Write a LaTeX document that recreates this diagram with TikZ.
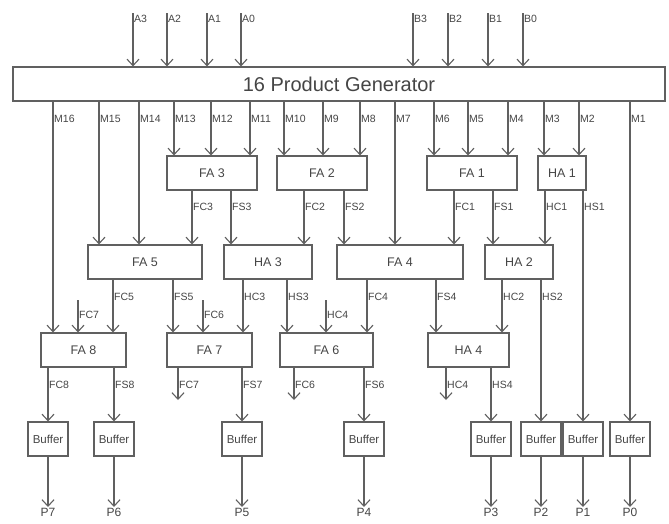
\documentclass[tikz,border=0pt]{standalone}
\usepackage{fontspec}
\setmainfont{Liberation Sans}
\usetikzlibrary{arrows.meta, positioning}
\definecolor{linegray}{HTML}{606060}
\definecolor{txtgray}{HTML}{454545}

\begin{document}
\begin{tikzpicture}[x=1pt, y=-1pt,
  arr/.style={draw=linegray, line width=1.1pt, -{Straight Barb[length=6.5pt, width=12pt, line width=1.1pt]}},
  blk/.style={draw=linegray, line width=1.1pt, minimum height=34pt, inner sep=0pt, font=\fontsize{12.5}{14}\selectfont, text=txtgray},
  buf/.style={blk, minimum width=40pt, font=\fontsize{11.5}{12}\selectfont},
  lbl/.style={anchor=west, inner sep=1pt, font=\fontsize{10.5}{12}\selectfont, text=txtgray},
  plbl/.style={anchor=north, inner sep=1pt, font=\fontsize{12}{12}\selectfont, text=txtgray}]
  \useasboundingbox (0,0) rectangle (669,523);

  % product generator
  \node[blk, minimum width=652pt, font=\fontsize{20}{24}\selectfont] (gen) at (339,84) {16 Product Generator};

  % first adder row
  \node[blk, minimum width=90pt] (FA3) at (212,173) {FA 3};
  \node[blk, minimum width=90pt] (FA2) at (322,173) {FA 2};
  \node[blk, minimum width=90pt] (FA1) at (472,173) {FA 1};
  \node[blk, minimum width=48pt] (HA1) at (562,173) {HA 1};
  % second adder row
  \node[blk, minimum width=114pt] (FA5) at (145,262) {FA 5};
  \node[blk, minimum width=88pt] (HA3) at (268,262) {HA 3};
  \node[blk, minimum width=126pt] (FA4) at (400,262) {FA 4};
  \node[blk, minimum width=68pt] (HA2) at (519,262) {HA 2};
  % third adder row
  \node[blk, minimum width=85pt] (FA8) at (83.5,350) {FA 8};
  \node[blk, minimum width=85pt] (FA7) at (209.5,350) {FA 7};
  \node[blk, minimum width=93pt] (FA6) at (326.5,350) {FA 6};
  \node[blk, minimum width=81pt] (HA4) at (468.5,350) {HA 4};

  % buffers and outputs
  \foreach \x/\p/\i in {48/P7/1, 114/P6/2, 242/P5/3, 364/P4/4, 491/P3/5, 541/P2/6, 583/P1/7, 630/P0/8} {
    \node[buf] (buf\i) at (\x,439) {Buffer};
    \coordinate (out\i) at (\x,507);
    \draw[arr] (buf\i.south) -- (out\i);
    \node[plbl] (l\p) at (out\i) {\p};
  }

  % operand inputs
  \foreach \x/\name in {133/A3, 167/A2, 207/A1, 241/A0, 413/B3, 448/B2, 488/B1, 523/B0} {
    \coordinate (in\name) at (\x,13);
    \draw[arr] (in\name) -- (in\name |- gen.north);
    \node[lbl] (l\name) at (\x,19) {\name};
  }

  % connections: x / label / from / to / label y
  \foreach \x/\name/\src/\dest/\ly in {
      53/M16/gen/FA8/119, 99/M15/gen/FA5/119, 139/M14/gen/FA5/119,
      174/M13/gen/FA3/119, 211/M12/gen/FA3/119, 250/M11/gen/FA3/119,
      284/M10/gen/FA2/119, 323/M9/gen/FA2/119, 360/M8/gen/FA2/119,
      395/M7/gen/FA4/119, 434/M6/gen/FA1/119, 468/M5/gen/FA1/119,
      508/M4/gen/FA1/119, 544/M3/gen/HA1/119, 579/M2/gen/HA1/119,
      630/M1/gen/buf8/119,
      192/FC3/FA3/FA5/207, 231/FS3/FA3/HA3/207, 304/FC2/FA2/HA3/207,
      344/FS2/FA2/FA4/207, 454/FC1/FA1/FA4/207, 493/FS1/FA1/HA2/207,
      545/HC1/HA1/HA2/207, 583/HS1/HA1/buf7/207,
      113/FC5/FA5/FA8/297, 173/FS5/FA5/FA7/297, 243/HC3/HA3/FA7/297,
      287/HS3/HA3/FA6/297, 367/FC4/FA4/FA6/297, 436/FS4/FA4/HA4/297,
      502/HC2/HA2/HA4/297, 541/HS2/HA2/buf6/297,
      48/FC8/FA8/buf1/385, 114/FS8/FA8/buf2/385, 242/FS7/FA7/buf3/385,
      364/FS6/FA6/buf4/385, 491/HS4/HA4/buf5/385} {
    \coordinate (x\name) at (\x,0);
    \draw[arr] (\src.south -| x\name) -- (\dest.north -| x\name);
    \node[lbl] (l\name) at (\x,\ly) {\name};
  }

  % carry inputs coming from below
  \foreach \x/\name/\dest in {78/FC7/FA8, 203/FC6/FA7, 326/HC4/FA6} {
    \coordinate (cin\name) at (\x,300);
    \draw[arr] (cin\name) -- (cin\name |- \dest.north);
    \node[lbl] (lin\name) at (\x,315) {\name};
  }
  % carry outputs leaving
  \foreach \x/\name/\src in {178/FC7/FA7, 294/FC6/FA6, 446/HC4/HA4} {
    \coordinate (cout\name) at (\x,400);
    \draw[arr] (cout\name |- \src.south) -- (cout\name);
    \node[lbl] (lout\name) at (\x,385) {\name};
  }
\end{tikzpicture}
\end{document}
